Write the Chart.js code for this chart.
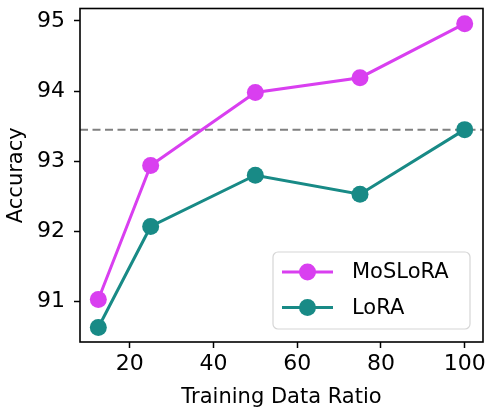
<!DOCTYPE html>
<html>
<head>
<meta charset="utf-8">
<script src="https://cdn.jsdelivr.net/npm/chart.js@4.4.1/dist/chart.umd.min.js"></script>
<style>
html,body{margin:0;padding:0;background:#fff;}
#wrap{width:492px;height:412px;position:relative;}
</style>
</head>
<body>
<div id="wrap"><canvas id="c"></canvas></div>
<script>
const ratios = [12.5, 25, 50, 75, 100];
const mosloraAcc = [91.03, 92.94, 93.98, 94.19, 94.96];
const loraAcc = [90.63, 92.07, 92.80, 92.53, 93.45];
const seriesNames = ['MoSLoRA', 'LoRA'];
const xTickValues = [20, 40, 60, 80, 100];
const yTickValues = [91, 92, 93, 94, 95];
const refLineValue = 93.45;

const FONT = '"DejaVu Sans", sans-serif';
const magenta = '#d93ff0';
const teal = '#188a86';

function pts(xs, ys){ return xs.map((x,i)=>({x:x, y:ys[i]})); }

const frameAndRef = {
  id:'frameAndRef',
  beforeDatasetsDraw(chart){
    const {ctx, chartArea:a, scales:{y}} = chart;
    const yy = y.getPixelForValue(refLineValue);
    ctx.save();
    ctx.strokeStyle = '#808080';
    ctx.lineWidth = 2;
    ctx.setLineDash([8,4.5]);
    ctx.beginPath(); ctx.moveTo(a.left, yy); ctx.lineTo(a.right, yy); ctx.stroke();
    ctx.restore();
  },
  afterDraw(chart){
    const {ctx, chartArea:a} = chart;
    ctx.save();
    ctx.strokeStyle = '#000';
    ctx.lineWidth = 1.6;
    ctx.strokeRect(a.left, a.top, a.right-a.left, a.bottom-a.top);
    // legend
    const lx = 273, ly = 252, lw = 197, lh = 77;
    ctx.fillStyle = 'rgba(255,255,255,0.8)';
    ctx.strokeStyle = '#d6d6d6';
    ctx.lineWidth = 1.2;
    ctx.beginPath();
    ctx.roundRect(lx, ly, lw, lh, 5);
    ctx.fill(); ctx.stroke();
    chart.data.datasets.forEach((ds,i)=>{
      const cy = 272 + i*35.5;
      ctx.strokeStyle = ds.borderColor;
      ctx.lineWidth = 3;
      ctx.beginPath(); ctx.moveTo(282, cy); ctx.lineTo(333, cy); ctx.stroke();
      ctx.fillStyle = ds.pointBackgroundColor;
      ctx.beginPath(); ctx.arc(307.5, cy, 8.5, 0, Math.PI*2); ctx.fill();
      ctx.fillStyle = '#000';
      ctx.font = '21px ' + FONT;
      ctx.textBaseline = 'middle';
      ctx.textAlign = 'left';
      ctx.fillText(ds.label, 352, cy + 1);
    });
    ctx.restore();
  }
};

new Chart(document.getElementById('c'), {
  type:'line',
  data:{
    datasets:[
      {label:seriesNames[0], data:pts(ratios, mosloraAcc), borderColor:magenta, backgroundColor:magenta, pointBackgroundColor:magenta, pointBorderWidth:0, pointRadius:8.5, borderWidth:3, tension:0},
      {label:seriesNames[1], data:pts(ratios, loraAcc), borderColor:teal, backgroundColor:teal, pointBackgroundColor:teal, pointBorderWidth:0, pointRadius:8.5, borderWidth:3, tension:0}
    ]
  },
  options:{
    responsive:true, maintainAspectRatio:false, animation:false,
    layout:{padding:{top:8, right:9, left:0, bottom:0}},
    plugins:{legend:{display:false}, tooltip:{enabled:false}},
    scales:{
      x:{
        type:'linear', min:8.125, max:104.375,
        afterBuildTicks(s){ s.ticks = xTickValues.map(v=>({value:v})); },
        afterFit(s){ s.height = 70; s.paddingLeft = 0; s.paddingRight = 0; },
        grid:{drawOnChartArea:false, drawTicks:true, tickLength:6, tickColor:'#000', tickWidth:1.5},
        border:{display:false},
        ticks:{color:'#000', font:{family:FONT, size:22}, padding:3, maxRotation:0},
        title:{display:true, text:'Training Data Ratio', color:'#000', font:{family:FONT, size:21}, padding:{top:0, bottom:2}}
      },
      y:{
        type:'linear', min:90.424, max:95.176,
        afterBuildTicks(s){ s.ticks = yTickValues.map(v=>({value:v})); },
        afterFit(s){ s.width = 80; s.paddingTop = 0; s.paddingBottom = 0; },
        grid:{drawOnChartArea:false, drawTicks:true, tickLength:6, tickColor:'#000', tickWidth:1.5},
        border:{display:false},
        ticks:{color:'#000', font:{family:FONT, size:22}, padding:9},
        title:{display:true, text:'Accuracy', color:'#000', font:{family:FONT, size:21}, padding:{top:4,bottom:0}}
      }
    }
  },
  plugins:[frameAndRef]
});
</script>
</body>
</html>
